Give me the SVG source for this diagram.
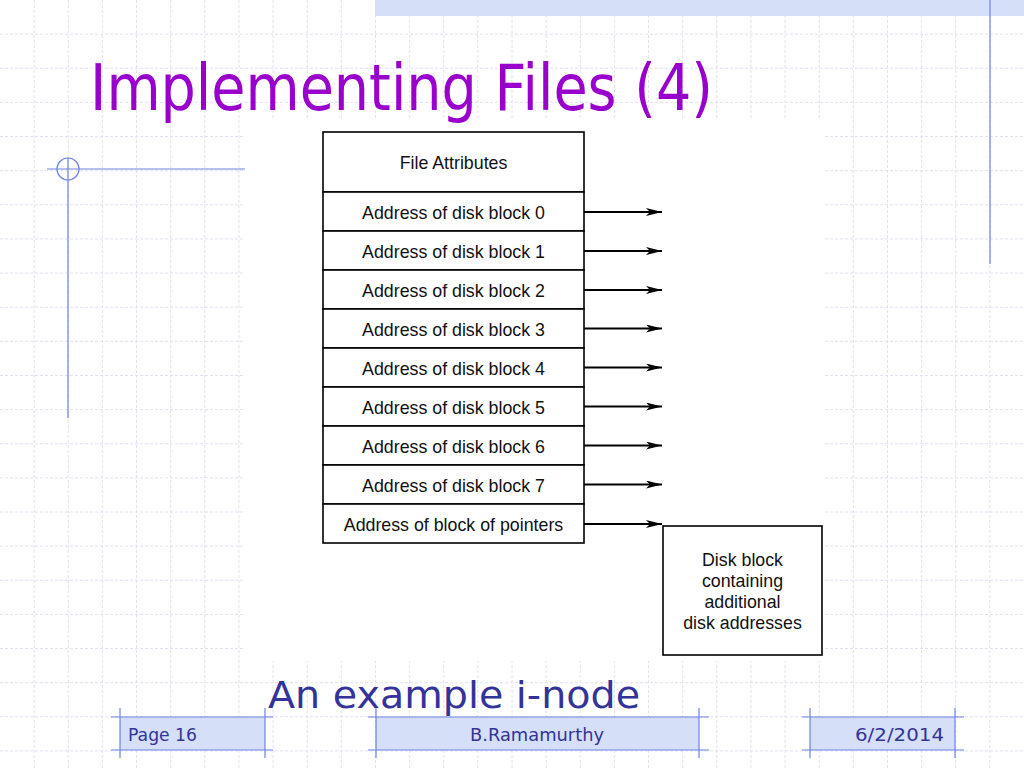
<svg xmlns="http://www.w3.org/2000/svg" width="1024" height="768" viewBox="0 0 1024 768">
<style>
.grid{stroke:#E0E0F2;stroke-width:1;stroke-dasharray:3 2;fill:none}
.deco{stroke:#6F82E0;stroke-width:1.2;fill:none}
.band{fill:#D5DFF8}
.cell{fill:#fff;stroke:#000;stroke-width:1.6}
.lbl{font-family:"Liberation Sans",Arial,sans-serif;font-size:17.8px;fill:#111;text-anchor:middle}
.conn{stroke:#000;stroke-width:2.2;fill:none}
.foot{font-family:"DejaVu Sans",sans-serif;font-size:18px;fill:#333399}
</style>
<defs>
<marker id="arr" viewBox="0 0 16 8" refX="16" refY="4" markerWidth="16" markerHeight="8" markerUnits="userSpaceOnUse" orient="auto">
<path d="M0,0 L16,4 L0,8 L4,4 Z" fill="#000"/>
</marker>
</defs>
<rect width="1024" height="768" fill="#fff"/>
<g id="grid">
<path class="grid" d="M34.13,0V768M68.27,0V768M102.4,0V768M136.53,0V768M170.67,0V768M204.8,0V768M238.93,0V768M273.07,0V768M307.2,0V768M341.33,0V768M375.47,0V768M409.6,0V768M443.73,0V768M477.87,0V768M512,0V768M546.13,0V768M580.27,0V768M614.4,0V768M648.53,0V768M682.67,0V768M716.8,0V768M750.93,0V768M785.07,0V768M819.2,0V768M853.33,0V768M887.47,0V768M921.6,0V768M955.73,0V768M989.87,0V768"/>
<path class="grid" d="M0,34.13H1024M0,68.27H1024M0,102.4H1024M0,136.53H1024M0,170.67H1024M0,204.8H1024M0,238.93H1024M0,273.07H1024M0,307.2H1024M0,341.33H1024M0,375.47H1024M0,409.6H1024M0,443.73H1024M0,477.87H1024M0,512H1024M0,546.13H1024M0,580.27H1024M0,614.4H1024M0,648.53H1024M0,682.67H1024M0,716.8H1024M0,750.93H1024"/>
</g>
<g id="decoration">
<rect class="band" x="375" y="0" width="649" height="16"/>
<line class="deco" x1="990" y1="0" x2="990" y2="264"/>
<line class="deco" x1="47" y1="169" x2="247" y2="169"/>
<line class="deco" x1="68" y1="158" x2="68" y2="418"/>
<circle class="deco" cx="68" cy="169" r="11"/>
</g>
<rect x="245" y="120" width="580" height="541" fill="#fff"/>
<text id="title" x="90" y="110" font-family="'DejaVu Sans',Verdana,sans-serif" font-size="64" fill="#9900CC" textLength="623" lengthAdjust="spacingAndGlyphs">Implementing Files (4)</text>
<g id="inode">
<rect class="cell" x="323" y="132" width="261" height="60"/>
<text class="lbl" x="453.5" y="169">File Attributes</text>
<rect class="cell" x="323" y="192" width="261" height="39"/>
<text class="lbl" x="453.5" y="218.5">Address of disk block 0</text>
<rect class="cell" x="323" y="231" width="261" height="39"/>
<text class="lbl" x="453.5" y="257.5">Address of disk block 1</text>
<rect class="cell" x="323" y="270" width="261" height="39"/>
<text class="lbl" x="453.5" y="296.5">Address of disk block 2</text>
<rect class="cell" x="323" y="309" width="261" height="39"/>
<text class="lbl" x="453.5" y="335.5">Address of disk block 3</text>
<rect class="cell" x="323" y="348" width="261" height="39"/>
<text class="lbl" x="453.5" y="374.5">Address of disk block 4</text>
<rect class="cell" x="323" y="387" width="261" height="39"/>
<text class="lbl" x="453.5" y="413.5">Address of disk block 5</text>
<rect class="cell" x="323" y="426" width="261" height="39"/>
<text class="lbl" x="453.5" y="452.5">Address of disk block 6</text>
<rect class="cell" x="323" y="465" width="261" height="39"/>
<text class="lbl" x="453.5" y="491.5">Address of disk block 7</text>
<rect class="cell" x="323" y="504" width="261" height="39"/>
<text class="lbl" x="453.5" y="530.5">Address of block of pointers</text>
</g>
<g id="diskblock">
<rect class="cell" x="663" y="526" width="159" height="129"/>
<text class="lbl" x="742.5" y="566">Disk block</text>
<text class="lbl" x="742.5" y="587">containing</text>
<text class="lbl" x="742.5" y="608">additional</text>
<text class="lbl" x="742.5" y="629">disk addresses</text>
</g>
<g id="connectors">
<line class="conn" x1="584" y1="212" x2="662" y2="212" marker-end="url(#arr)"/>
<line class="conn" x1="584" y1="251" x2="662" y2="251" marker-end="url(#arr)"/>
<line class="conn" x1="584" y1="290" x2="662" y2="290" marker-end="url(#arr)"/>
<line class="conn" x1="584" y1="328.5" x2="662" y2="328.5" marker-end="url(#arr)"/>
<line class="conn" x1="584" y1="367.5" x2="662" y2="367.5" marker-end="url(#arr)"/>
<line class="conn" x1="584" y1="406.5" x2="662" y2="406.5" marker-end="url(#arr)"/>
<line class="conn" x1="584" y1="445.5" x2="662" y2="445.5" marker-end="url(#arr)"/>
<line class="conn" x1="584" y1="484.5" x2="662" y2="484.5" marker-end="url(#arr)"/>
<line class="conn" x1="584" y1="524" x2="662" y2="524" marker-end="url(#arr)"/>
</g>
<text id="caption" x="268" y="708" font-family="'DejaVu Sans',Verdana,sans-serif" font-size="38" fill="#333399" textLength="372" lengthAdjust="spacingAndGlyphs">An example i-node</text>
<g id="footer-page">
<rect class="band" x="120" y="717" width="145" height="33"/>
<line class="deco" x1="111" y1="717" x2="273" y2="717"/>
<line class="deco" x1="111" y1="750" x2="273" y2="750"/>
<line class="deco" x1="120" y1="708" x2="120" y2="758"/>
<line class="deco" x1="265" y1="708" x2="265" y2="758"/>
<text class="foot" x="128" y="741" textLength="69" lengthAdjust="spacingAndGlyphs">Page 16</text>
</g>
<g id="footer-author">
<rect class="band" x="376" y="717" width="323" height="33"/>
<line class="deco" x1="368" y1="717" x2="709" y2="717"/>
<line class="deco" x1="368" y1="750" x2="709" y2="750"/>
<line class="deco" x1="376" y1="708" x2="376" y2="758"/>
<line class="deco" x1="699" y1="708" x2="699" y2="758"/>
<text class="foot" x="537" y="741" text-anchor="middle" textLength="134" lengthAdjust="spacingAndGlyphs">B.Ramamurthy</text>
</g>
<g id="footer-date">
<rect class="band" x="810" y="717" width="145" height="33"/>
<line class="deco" x1="802" y1="717" x2="964" y2="717"/>
<line class="deco" x1="802" y1="750" x2="964" y2="750"/>
<line class="deco" x1="810" y1="708" x2="810" y2="758"/>
<line class="deco" x1="955" y1="708" x2="955" y2="758"/>
<text class="foot" x="944" y="741" text-anchor="end" textLength="89" lengthAdjust="spacingAndGlyphs">6/2/2014</text>
</g>
</svg>
